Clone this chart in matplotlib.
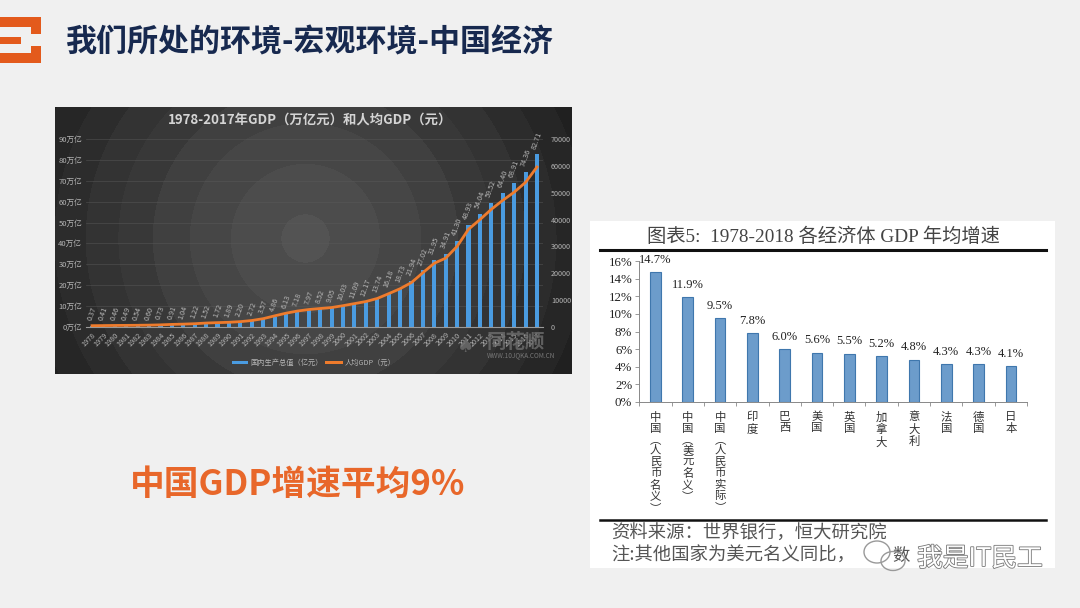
import numpy as np
import matplotlib
matplotlib.use("Agg")
import matplotlib.pyplot as plt
import matplotlib.patheffects as pe
from matplotlib.patches import Rectangle, Ellipse

plt.rcParams['font.family'] = ['Noto Sans CJK SC', 'DejaVu Sans']

W, H = 1080, 608

years = list(range(1978, 2018))
gdp = [0.37, 0.41, 0.46, 0.49, 0.54, 0.60, 0.73, 0.91, 1.04, 1.22,
       1.52, 1.72, 1.89, 2.20, 2.72, 3.57, 4.86, 6.13, 7.18, 7.97,
       8.52, 9.05, 10.03, 11.09, 12.17, 13.74, 16.18, 18.73, 21.94, 27.02,
       31.95, 34.91, 41.30, 48.93, 54.04, 59.52, 64.40, 68.91, 74.36, 82.71]
gdp_per = [385, 423, 468, 497, 533, 588, 692, 858, 963, 1112,
           1366, 1519, 1644, 1893, 2311, 2998, 4044, 5046, 5846, 6420,
           6796, 7159, 7858, 8622, 9398, 10542, 12336, 14185, 16500, 20169,
           23708, 25608, 30015, 36403, 40007, 43852, 47203, 50251, 53935, 59660]
left_ticks = [f"{v}万亿" for v in range(0, 100, 10)]

econ = ["中国(人民币名义)", "中国(美元名义)", "中国(人民币实际)", "印度", "巴西", "美国",
        "英国", "加拿大", "意大利", "法国", "德国", "日本"]
growth = [14.7, 11.9, 9.5, 7.8, 6.0, 5.6, 5.5, 5.2, 4.8, 4.3, 4.3, 4.1]


def px_axes(fig, x0, y0, x1, y1, **kw):
    # pixel box measured from the top left of the picture
    return fig.add_axes([x0 / W, 1 - y1 / H, (x1 - x0) / W, (y1 - y0) / H], **kw)


def ptext(x, y, s, **kw):
    kw.setdefault("ha", "center")
    kw.setdefault("va", "center")
    return page.text(x, y, s, **kw)


fig = plt.figure(figsize=(W / 100, H / 100), dpi=100, facecolor="#f0f0f0")

# whole page in pixel coordinates
page = fig.add_axes([0, 0, 1, 1])
page.set_xlim(0, W)
page.set_ylim(H, 0)
page.axis("off")

# logo
logo = "#e35a1c"
for x, y, w, h in [(0, 17, 41, 10), (31, 17, 10, 17), (0, 37, 21, 7),
                   (31, 46, 10, 17), (0, 53, 41, 10)]:
    page.add_patch(Rectangle((x, y), w, h, color=logo, lw=0))

ptext(65, 42, "我们所处的环境-宏观环境-中国经济", ha="left", fontsize=22.3,
      fontweight="bold", color="#17294f")
ptext(298, 484, "中国GDP增速平均9%", fontsize=25, fontweight="bold", color="#e8672a")

# left panel: dark radial background
bg = px_axes(fig, 55, 107, 572, 374)
yy, xx = np.mgrid[107:374, 55:572]
r = np.hypot(xx - 305, yy - 238)
shade = np.round((0.32 - 0.19 * np.clip(r / 290, 0, 1) ** 1.3) * 40) / 40
bg.imshow(shade, cmap="gray", vmin=0, vmax=1, aspect="auto")
bg.axis("off")

ax = px_axes(fig, 86.3, 139.3, 542.7, 326.7)
ax.patch.set_alpha(0)
x = np.arange(len(years))
ax.bar(x, gdp, width=0.36, color="#4a9be0", zorder=2)
ax.set_xlim(-0.5, len(years) - 0.5)
ax.set_ylim(0, 90)
ax.set_yticks(range(0, 100, 10))
ax.set_yticklabels(left_ticks, fontsize=5.5, color="#b5b5b5")
ax.set_xticks(x)
ax.set_xticklabels(years, rotation=45, ha="right", rotation_mode="anchor",
                   fontsize=5.2, color="#b5b5b5")
ax.tick_params(length=0, pad=3)
ax.grid(axis="y", color="#5c5c5c", lw=0.5, alpha=0.6, zorder=0)
for s in ["top", "left", "right"]:
    ax.spines[s].set_visible(False)
ax.spines["bottom"].set_color("#9a9a9a")
for xi, v in zip(x, gdp):
    ax.annotate(f"{v:.2f}", (xi, v), xytext=(0, 3), textcoords="offset points",
                rotation=70, ha="center", va="bottom", fontsize=5.2, color="#b8b8b8")

ax2 = ax.twinx()
ax2.plot(x, gdp_per, color="#ee7b2c", lw=2, zorder=3)
ax2.set_ylim(0, 70000)
ax2.set_yticks(range(0, 80000, 10000))
ax2.set_yticklabels([str(v) for v in range(0, 80000, 10000)], fontsize=5.2, color="#b5b5b5")
ax2.tick_params(length=0, pad=6)
for s in ax2.spines.values():
    s.set_visible(False)

ptext(310, 120, "1978-2017年GDP（万亿元）和人均GDP（元）", fontsize=9.6, fontweight="bold",
      color="#d4d4d4")
page.set_zorder(5)
page.add_patch(Rectangle((232, 361), 16, 3, color="#4a9be0", lw=0))
ptext(250, 362.5, "国内生产总值（亿元）", ha="left", fontsize=5.2, color="#b5b5b5")
page.add_patch(Rectangle((325, 361), 18, 2.5, color="#ee7b2c", lw=0))
ptext(345, 362.5, "人均GDP（元）", ha="left", fontsize=5.2, color="#b5b5b5")
ptext(516, 342, "同花顺", fontsize=14, fontweight="bold", color="#6e6e6e", alpha=0.8)
ptext(521, 355, "WWW.10JQKA.COM.CN", fontsize=4.6, color="#777777")
ptext(466, 346, "♠", fontsize=14, color="#6e6e6e", alpha=0.8, family="DejaVu Sans")

# right panel: white picture
page.add_patch(Rectangle((590, 221), 465, 347, color="white", lw=0, zorder=0))
bg.set_zorder(1)
ax.set_zorder(2)
ax2.set_zorder(3)

serif = ["Liberation Serif", "Noto Sans CJK SC"]
ptext(823, 237, "图表5:  1978-2018 各经济体 GDP 年均增速", fontsize=13.9, color="#444444",
      family=serif)
page.plot([600, 1046], [250, 250], color="#111111", lw=2.2)
page.plot([600, 1046], [520, 520], color="#111111", lw=1.8)
ptext(611, 534, "资料来源：世界银行，恒大研究院", ha="left", fontsize=13.2, color="#555555")
ptext(611, 556, "注:其他国家为美元名义同比，", ha="left", fontsize=13.2, color="#555555")
ptext(901, 556, "数", fontsize=12.5, color="#555555")

rx = px_axes(fig, 639.3, 261, 1027, 402)
rx.patch.set_alpha(0)
rx.set_zorder(6)
pos = np.arange(len(econ))
rx.bar(pos, growth, width=0.33, color="#6c9ccb", edgecolor="#3f77ad", lw=0.8)
rx.set_xlim(-0.5, len(econ) - 0.5)
rx.set_ylim(0, 16)
rx.set_yticks(range(0, 18, 2))
rx.set_yticklabels([f"{v}%" for v in range(0, 18, 2)], fontsize=9.3, family=serif,
                   color="#222222")
rx.set_xticks(np.arange(-0.5, len(econ), 1))
rx.set_xticklabels([])
rx.tick_params(length=3, width=0.6, color="#888888", direction="out", pad=2)
for s in ["top", "right"]:
    rx.spines[s].set_visible(False)
for s in ["left", "bottom"]:
    rx.spines[s].set_color("#888888")
    rx.spines[s].set_linewidth(0.7)
for p, v in zip(pos, growth):
    rx.annotate(f"{v}%", (p, v), xytext=(0, 4.5), textcoords="offset points", ha="center",
                va="bottom", fontsize=9, family=serif, color="#222222")
    lab = econ[p].replace("(", "︵").replace(")", "︶")
    rx.annotate("\n".join(lab), (p, 0), xytext=(0, -7), textcoords="offset points",
                ha="center", va="top", fontsize=8.2, color="#333333", linespacing=1.12)

# wechat watermark
wm = pe.withStroke(linewidth=1.2, foreground="#777777")
for cx, cy, ew, eh in [(877, 552, 26, 22), (893, 561, 24, 19)]:
    page.add_patch(Ellipse((cx, cy), ew, eh, fc="none", ec="#999999", lw=1, zorder=7))
ptext(980, 559, "我是IT民工", fontsize=18.5, color="white", zorder=8, path_effects=[wm])

fig.savefig("out.png", dpi=100, facecolor=fig.get_facecolor())
